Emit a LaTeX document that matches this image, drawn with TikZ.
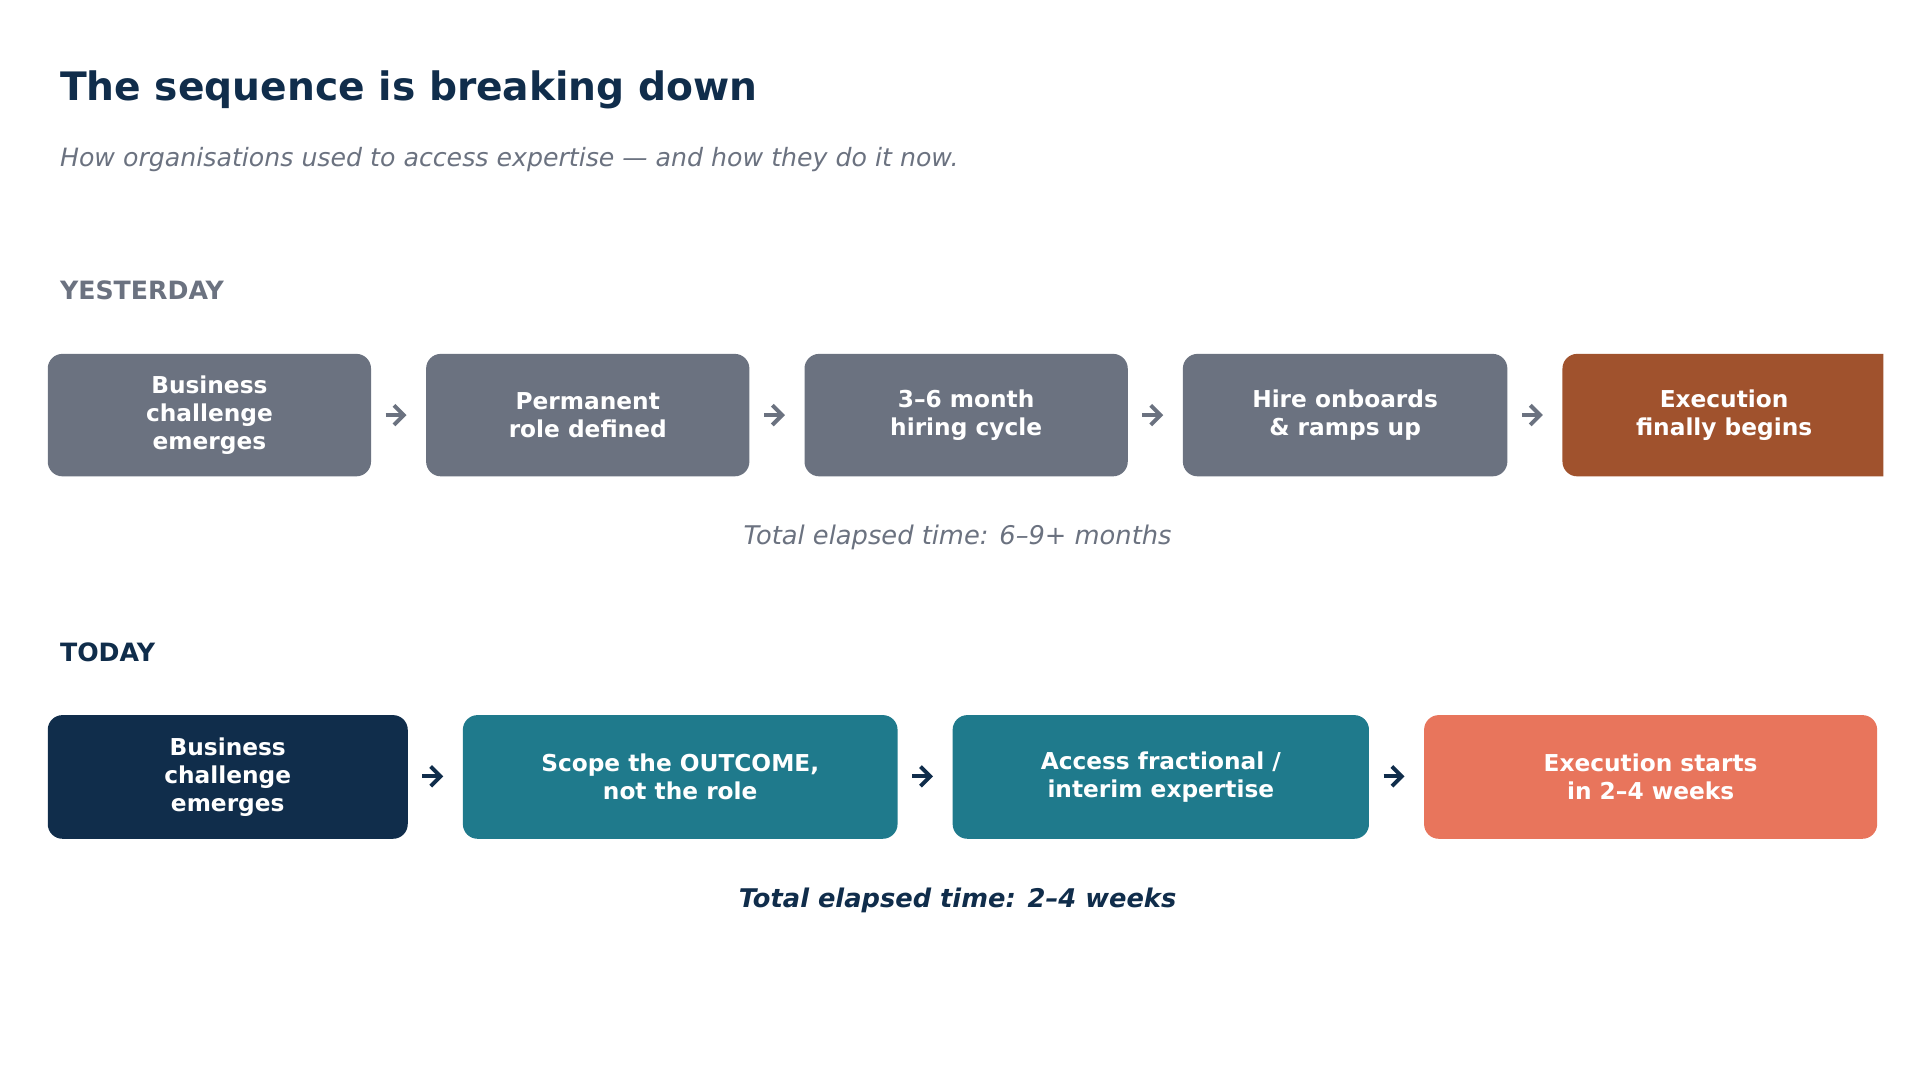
\documentclass[tikz,border=0pt]{standalone}
\usepackage{fontspec}
\setmainfont{DejaVu Sans}
\usetikzlibrary{arrows.meta}
\definecolor{gr}{HTML}{6B7280}
\definecolor{br}{HTML}{A0522D}
\definecolor{nv}{HTML}{102D4B}
\definecolor{tl}{HTML}{1F7A8C}
\definecolor{cr}{HTML}{E8755C}
\tikzset{
 box/.style={rounded corners=6pt,inner sep=0pt,text=white,align=center,font=\fontsize{9.5}{11.5}\selectfont\bfseries},
 arr/.style={-{Straight Barb[length=4pt,width=8pt]},line width=1.6pt},
}
\begin{document}
\begin{tikzpicture}[x=0.5pt,y=-0.5pt]
\useasboundingbox (0,0) rectangle (1568,882);
\fill[white] (0,0) rectangle (1568,882);
\node[anchor=west,text=nv,font=\fontsize{16}{19}\selectfont\bfseries] (title) at (42,73) {The sequence is breaking down};
\node[anchor=west,text=gr,font=\fontsize{10.3}{12}\selectfont\itshape] (sub) at (42,130) {How organisations used to access expertise — and how they do it now.};
\node[anchor=west,text=gr,font=\fontsize{10.3}{12}\selectfont\bfseries] (yl) at (42,237) {YESTERDAY};
\node[anchor=west,text=nv,font=\fontsize{10.3}{12}\selectfont\bfseries] (tl) at (42,533) {TODAY};
% row 1
\path[box,fill=gr] (39,289) rectangle (303,389) node[midway] (a1) {Business\\challenge\\emerges};
\path[box,fill=gr] (348,289) rectangle (612,389) node[midway] (a2) {Permanent\\role defined};
\path[box,fill=gr] (657,289) rectangle (921,389) node[midway] (a3) {3–6 month\\hiring cycle};
\path[box,fill=gr] (966,289) rectangle (1231,389) node[midway] (a4) {Hire onboards\\\& ramps up};
\begin{scope}
\clip (1270,280) rectangle (1538,400);
\path[box,fill=br] (1276,289) rectangle (1550,389);
\end{scope}
\node[box] (a5) at (1408,339) {Execution\\finally begins};
\coordinate (r1) at (303,339);\coordinate (l2) at (348,339);
\coordinate (r2) at (612,339);\coordinate (l3) at (657,339);
\coordinate (r3) at (921,339);\coordinate (l4) at (966,339);
\coordinate (r4) at (1231,339);\coordinate (l5) at (1276,339);
\foreach \a/\b in {r1/l2,r2/l3,r3/l4,r4/l5}
 \draw[arr,draw=gr] ([xshift=6]\a) -- ([xshift=-8]\b);
\node[text=gr,font=\fontsize{10.5}{12}\selectfont\itshape] (e1) at (782,439) {Total elapsed time: 6–9+ months};
% row 2
\path[box,fill=nv] (39,584) rectangle (333,685) node[midway] (b1) {Business\\challenge\\emerges};
\path[box,fill=tl] (378,584) rectangle (733,685) node[midway] (b2) {Scope the OUTCOME,\\not the role};
\path[box,fill=tl] (778,584) rectangle (1118,685) node[midway] (b3) {Access fractional /\\interim expertise};
\path[box,fill=cr] (1163,584) rectangle (1533,685) node[midway] (b4) {Execution starts\\in 2–4 weeks};
\coordinate (s1) at (333,634);\coordinate (t2) at (378,634);
\coordinate (s2) at (733,634);\coordinate (t3) at (778,634);
\coordinate (s3) at (1118,634);\coordinate (t4) at (1163,634);
\foreach \a/\b in {s1/t2,s2/t3,s3/t4}
 \draw[arr,draw=nv] ([xshift=6]\a) -- ([xshift=-8]\b);
\node[text=nv,font=\fontsize{10.5}{12}\selectfont\bfseries\itshape] (e2) at (782,735) {Total elapsed time: 2–4 weeks};
\end{tikzpicture}
\end{document}
